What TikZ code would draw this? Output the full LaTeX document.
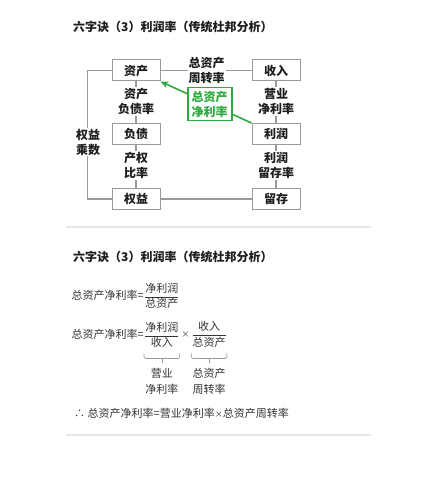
\documentclass[tikz,border=0pt]{standalone}
\usepackage{fontspec}
\setmainfont{Noto Sans CJK SC}
\usetikzlibrary{arrows.meta}
\definecolor{boxgray}{HTML}{9A9A9A}
\definecolor{lgreen}{HTML}{2FAA3F}
\definecolor{txt}{HTML}{1E1E1E}
\definecolor{ftc}{HTML}{333333}
\definecolor{sepc}{HTML}{E6E6E6}
\newcommand{\smtimes}{{\fontsize{8}{8}\selectfont ×}}
\begin{document}
\begin{tikzpicture}[x=1pt,y=-1pt,
  every node/.style={text=txt},
  boxnode/.style={draw=boxgray, line width=1pt, fill=white, minimum width=48pt, minimum height=21pt, inner sep=0pt, font=\fontsize{12}{14}\selectfont\bfseries},
  lbl/.style={fill=white, align=center, inner sep=1pt, font=\fontsize{12}{15}\selectfont\bfseries},
  conn/.style={draw=boxgray, line width=1.1pt},
  gbox/.style={draw=lgreen, line width=1.8pt, fill=white, text=lgreen, align=center, minimum width=44pt, minimum height=33pt, inner sep=1pt, font=\fontsize{12}{15}\selectfont\bfseries},
  garrow/.style={draw=lgreen, line width=1.6pt, -{Stealth[length=8pt,width=7pt]}},
  ttl/.style={anchor=west, inner sep=0pt, font=\fontsize{12}{14}\selectfont\bfseries},
  ftxt/.style={text=ftc, inner sep=0pt, font=\fontsize{11}{13}\selectfont},
  blbl/.style={text=ftc, inner sep=0pt, align=center, font=\fontsize{11}{16}\selectfont},
  brc/.style={draw=boxgray, line width=0.7pt, rounded corners=1.5pt},
  sepline/.style={draw=sepc, line width=2.5pt}
]
\useasboundingbox (0,0) rectangle (436,500);
\fill[white] (0,0) rectangle (436,500);

% ---------- section 1 ----------
\node[ttl] (t1) at (73,27) {六字诀（3）利润率（传统杜邦分析）};

\node[boxnode] (zc) at (136,70.5) {资产};
\node[boxnode] (sr) at (276,70.5) {收入};
\node[boxnode] (fz) at (136,134) {负债};
\node[boxnode] (lr) at (276,134) {利润};
\node[boxnode] (qy) at (136,199) {权益};
\node[boxnode] (lc) at (276,199) {留存};

\draw[conn] (zc) -- (sr);
\draw[conn] (zc) -- (fz);
\draw[conn] (fz) -- (qy);
\draw[conn] (qy) -- (lc);
\draw[conn] (sr) -- (lr);
\draw[conn] (lr) -- (lc);
\draw[conn] (zc.west) -- ++(-24,0) |- (qy.west);

\node[lbl] (l1) at (206.5,70.5) {总资产\\周转率};
\node[lbl] (l2) at (136,101.5) {资产\\负债率};
\node[lbl] (l3) at (136,165.5) {产权\\比率};
\node[lbl] (l4) at (276,101.5) {营业\\净利率};
\node[lbl] (l5) at (276,165.5) {利润\\留存率};
\node[lbl] (l6) at (88,142) {权益\\乘数};

\draw[garrow] (lr.north west) -- (zc.south east);
\node[gbox] (g) at (209.7,104) {总资产\\净利率};

\draw[sepline] (66,227) -- (371,227);

% ---------- section 2 ----------
\node[ttl] (t2) at (73,257) {六字诀（3）利润率（传统杜邦分析）};

\node[ftxt, anchor=west] (a1) at (71.5,295.7) {总资产净利率=};
\node[ftxt, anchor=west] (a1f) at (a1.east) {$\displaystyle\frac{\mbox{净利润}}{\mbox{总资产}}$};

\node[ftxt, anchor=west] (a2) at (71.5,334.5) {总资产净利率=};
\node[ftxt, anchor=west] (f1) at (a2.east) {$\displaystyle\frac{\mbox{净利润}}{\mbox{收入}}$};
\node[ftxt, anchor=west, inner sep=1.5pt] (xx) at (f1.east) {\smtimes};
\node[ftxt, anchor=west] (f2) at (xx.east) {$\displaystyle\frac{\mbox{收入}}{\mbox{总资产}}$};

\draw[brc] ([yshift=-6pt]f1.south west) -- ++(0,5) -| ([yshift=-6pt]f1.south east);
\draw[brc] ([yshift=-11pt]f1.south) -- ++(0,5);
\draw[brc] ([yshift=-6pt]f2.south west) -- ++(0,5) -| ([yshift=-6pt]f2.south east);
\draw[brc] ([yshift=-11pt]f2.south) -- ++(0,5);

\node[blbl] (b1) at (f1.south |- 0,381) {营业\\净利率};
\node[blbl] (b2) at (f2.south |- 0,381) {总资产\\周转率};

\node[ftxt, anchor=west] (c) at (74,413) {∴\ 总资产净利率=营业净利率\smtimes 总资产周转率};

\draw[sepline] (66,435) -- (371,435);
\end{tikzpicture}
\end{document}
